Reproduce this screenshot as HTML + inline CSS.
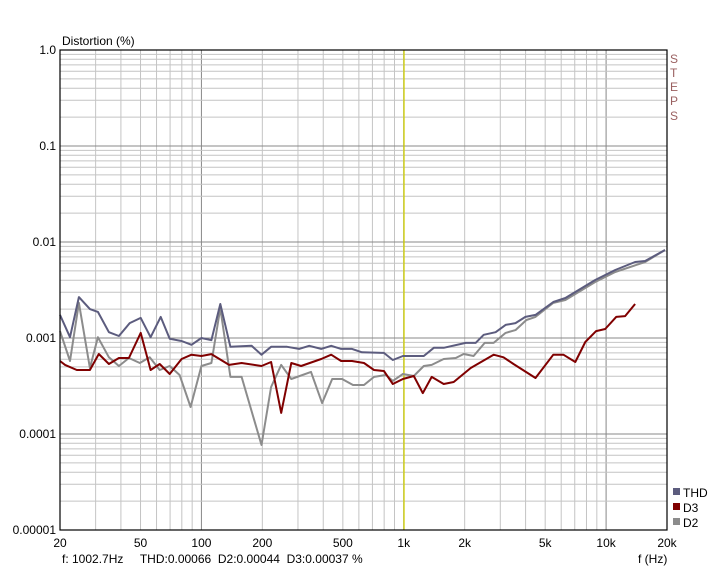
<!DOCTYPE html>
<html><head><meta charset="utf-8"><style>
body{margin:0;background:#fff;width:717px;height:580px;overflow:hidden}
svg text{font-family:"Liberation Sans",Arial,sans-serif;font-size:12px;fill:#000}
</style></head><body>
<svg id="chart" width="717" height="580" xmlns="http://www.w3.org/2000/svg">
<g id="grid"></g>
<g id="series"></g>
<rect x="60" y="50" width="607" height="480" fill="none" stroke="#000" stroke-width="1.2"/>
<g id="labels"></g>
<text x="62" y="45">Distortion (%)</text>
<text x="638" y="563">f (Hz)</text>
<text x="62" y="563" xml:space="preserve">f: 1002.7Hz     THD:0.00066  D2:0.00044  D3:0.00037 %</text>
<g style="fill:#a06a6a">
<text x="670" y="63" style="fill:#9a6060">S</text><text x="670" y="77" style="fill:#9a6060">T</text><text x="670" y="91" style="fill:#9a6060">E</text><text x="670" y="105" style="fill:#9a6060">P</text><text x="670" y="120" style="fill:#9a6060">S</text>
</g>
<g>
<g><rect x="673" y="488" width="7" height="7" fill="#5c5c7e"/><text x="683" y="497">THD</text></g>
<g><rect x="673" y="503" width="7" height="7" fill="#800000"/><text x="683" y="512">D3</text></g>
<g><rect x="673" y="518" width="7" height="7" fill="#8c8c8c"/><text x="683" y="527">D2</text></g>
</g>
</svg>
<script>
const xTicks=[20,50,100,200,500,1000,2000,5000,10000,20000];
const xTickLabels=["20","50","100","200","500","1k","2k","5k","10k","20k"];
const yTicks=[1,0.1,0.01,0.001,0.0001,0.00001];
const yTickLabels=["1.0","0.1","0.01","0.001","0.0001","0.00001"];
const cursorFreq=1002.7;
const thdFreq=[20,22.4,24.8,28.1,30.8,34.9,39.1,44.2,50.1,56.1,62.9,69.7,79.8,89.3,100,112,124,139,177,198,221,265,304,341,391,438,490,555,622,798,883,990,1256,1407,1576,2023,2266,2483,2845,3185,3567,3993,4478,5486,6295,8832,11090,13910,15590,19540];
const thdVal=[0.00174,0.00102,0.00267,0.00200,0.00187,0.00115,0.00105,0.00143,0.00162,0.00102,0.00166,0.00098,0.00093,0.00085,0.00100,0.00095,0.00226,0.00081,0.00083,0.00067,0.00081,0.00081,0.00077,0.00083,0.00077,0.00083,0.00077,0.00077,0.00071,0.00070,0.00059,0.00065,0.00065,0.00079,0.00079,0.00089,0.00089,0.00108,0.00115,0.00137,0.00143,0.00166,0.00174,0.00237,0.00261,0.00402,0.00511,0.00619,0.00634,0.00826];
const d3Freq=[20,21.2,24.2,28.1,31.1,34.9,39.1,43.8,50.1,56.1,62.2,69.7,79.8,89.3,100,112,137,158,198,221,248,278,311,391,438,490,555,636,713,798,883,990,1121,1242,1375,1576,1766,2142,2780,3113,3485,4478,5486,6150,7045,7890,8930,9900,11220,12420,13910];
const d3Val=[0.000576,0.000524,0.000464,0.000464,0.000681,0.000536,0.000619,0.000619,0.00113,0.000464,0.000536,0.000422,0.000604,0.00067,0.00065,0.00068,0.000524,0.000549,0.000511,0.000562,0.000166,0.000549,0.000511,0.000604,0.00067,0.000576,0.000576,0.000549,0.000464,0.000453,0.000332,0.000374,0.000402,0.000267,0.000393,0.000332,0.000348,0.000487,0.00067,0.00063,0.000536,0.000383,0.00067,0.00067,0.000563,0.000908,0.00118,0.00124,0.00166,0.00169,0.00226];
const d2Freq=[20,22.4,24.8,28.1,30.8,34.9,39.1,43.8,49.6,55.5,62.2,69.7,78,88.4,100,112,124,139,158,198,221,248,278,348,395,443,496,561,636,713,817,883,990,1121,1256,1375,1576,1806,1978,2215,2512,2780,3185,3567,4038,4478,5486,6295,8832,11090,15590,19540];
const d2Val=[0.00118,0.000576,0.00232,0.000487,0.00102,0.00063,0.000511,0.000619,0.000549,0.00063,0.000464,0.000511,0.000412,0.000191,0.000511,0.000549,0.00205,0.000393,0.000393,0.0000768,0.000309,0.000524,0.000374,0.000443,0.00021,0.000374,0.000374,0.000324,0.000324,0.000393,0.000412,0.000357,0.000422,0.000402,0.000511,0.000524,0.000604,0.000619,0.000681,0.00065,0.00089,0.00089,0.00113,0.00121,0.00154,0.00166,0.00232,0.00249,0.00383,0.00487,0.00619,0.00826];

const L=60,R=667,T=50,B=530;
const X=f=>L+(Math.log10(f)-Math.log10(20))/3*(R-L);
const Y=v=>T+(-Math.log10(v))/5*(B-T);
const NS="http://www.w3.org/2000/svg";
function mk(tag,attrs,parent){const e=document.createElementNS(NS,tag);for(const k in attrs)e.setAttribute(k,attrs[k]);parent.appendChild(e);return e;}
const grid=document.getElementById('grid');
// minor/major vertical
for(let d=10;d<=10000;d*=10){for(let m=1;m<10;m++){const f=d*m;if(f<=20||f>=20000)continue;
 const ln=mk('line',{x1:X(f),x2:X(f),y1:T,y2:B,stroke:m===1?'#888':'#c4c4c4','stroke-width':1},grid);
 
 }}
for(let d=0.00001;d<1;d*=10){for(let m=1;m<10;m++){const v=d*m;if(v<=0.0000101||v>=0.99)continue;
 const ln=mk('line',{x1:L,x2:R,y1:Y(v),y2:Y(v),stroke:m===1?'#888':'#c4c4c4','stroke-width':1},grid);
 
 }}
const cur=mk('line',{x1:X(cursorFreq),x2:X(cursorFreq),y1:T,y2:B,stroke:'#d0d000','stroke-width':1.3},grid);


const lab=document.getElementById('labels');
xTicks.forEach((f,i)=>{const t=mk('text',{x:X(f),y:547,'text-anchor':'middle'},lab);t.textContent=xTickLabels[i];
 
 });
yTicks.forEach((v,i)=>{const t=mk('text',{x:56,y:Y(v)+4,'text-anchor':'end'},lab);t.textContent=yTickLabels[i];
 
 });
const ser=document.getElementById('series');
function line(fs,vs,color,name){const p=mk('polyline',{points:fs.map((f,i)=>X(f).toFixed(1)+','+Y(vs[i]).toFixed(1)).join(' '),fill:'none',stroke:color,'stroke-width':2,'stroke-linejoin':'round'},ser);
 
 }
line(d2Freq,d2Val,'#8c8c8c','d2-line');
line(thdFreq,thdVal,'#5c5c7e','thd-line');
line(d3Freq,d3Val,'#800000','d3-line');
</script>
</body></html>
